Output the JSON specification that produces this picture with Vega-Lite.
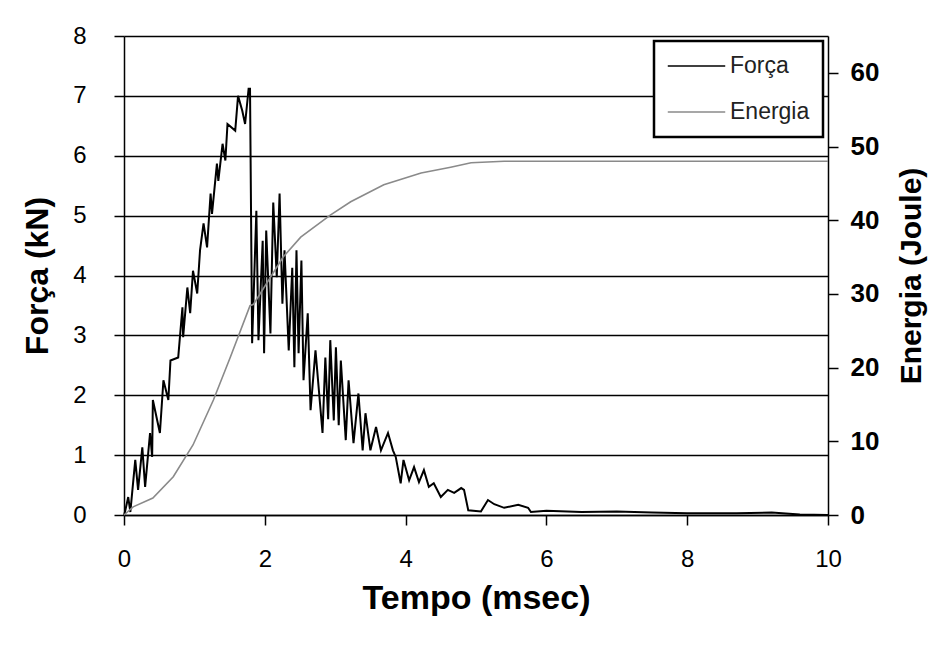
{
  "$schema": "https://vega.github.io/schema/vega-lite/v6.json",
  "width": 704,
  "height": 479,
  "autosize": {"type": "none"},
  "padding": {"left": 124, "top": 36, "right": 119, "bottom": 139},
  "background": "white",
  "config": {
    "view": {"stroke": null},
    "font": "Liberation Sans",
    "axis": {
      "domainColor": "black", "domainWidth": 1.5,
      "tickColor": "black", "tickWidth": 1.5, "tickSize": 10,
      "labelColor": "black", "labelFont": "Liberation Sans", "labelFontSize": 24,
      "titleColor": "black", "titleFont": "Liberation Sans", "titleFontSize": 32, "titleFontWeight": "bold"
    },
    "legend": {
      "orient": "top-right", "offset": 5,
      "fillColor": "white", "strokeColor": "black", "strokeWidth": 2.5,
      "padding": 13, "rowPadding": 22, "clipHeight": 24,
      "labelFont": "Liberation Sans", "labelFontSize": 23, "labelColor": "#222",
      "symbolType": "stroke", "symbolSize": 3300, "symbolStrokeWidth": 1.5,
      "labelOffset": 4
    }
  },
  "datasets": {
    "forca": [
      {"t": 0.0, "v": 0.0, "serie": "Força"},
      {"t": 0.01, "v": 0.03, "serie": "Força"},
      {"t": 0.06, "v": 0.3, "serie": "Força"},
      {"t": 0.09, "v": 0.05, "serie": "Força"},
      {"t": 0.16, "v": 0.92, "serie": "Força"},
      {"t": 0.2, "v": 0.42, "serie": "Força"},
      {"t": 0.26, "v": 1.13, "serie": "Força"},
      {"t": 0.3, "v": 0.47, "serie": "Força"},
      {"t": 0.37, "v": 1.37, "serie": "Força"},
      {"t": 0.4, "v": 0.97, "serie": "Força"},
      {"t": 0.41, "v": 1.92, "serie": "Força"},
      {"t": 0.51, "v": 1.37, "serie": "Força"},
      {"t": 0.56, "v": 2.25, "serie": "Força"},
      {"t": 0.63, "v": 1.92, "serie": "Força"},
      {"t": 0.66, "v": 2.58, "serie": "Força"},
      {"t": 0.77, "v": 2.63, "serie": "Força"},
      {"t": 0.83, "v": 3.47, "serie": "Força"},
      {"t": 0.84, "v": 2.97, "serie": "Força"},
      {"t": 0.9, "v": 3.8, "serie": "Força"},
      {"t": 0.94, "v": 3.37, "serie": "Força"},
      {"t": 0.98, "v": 4.08, "serie": "Força"},
      {"t": 1.04, "v": 3.7, "serie": "Força"},
      {"t": 1.08, "v": 4.42, "serie": "Força"},
      {"t": 1.13, "v": 4.87, "serie": "Força"},
      {"t": 1.18, "v": 4.47, "serie": "Força"},
      {"t": 1.23, "v": 5.37, "serie": "Força"},
      {"t": 1.25, "v": 5.03, "serie": "Força"},
      {"t": 1.32, "v": 5.87, "serie": "Força"},
      {"t": 1.34, "v": 5.58, "serie": "Força"},
      {"t": 1.4, "v": 6.2, "serie": "Força"},
      {"t": 1.44, "v": 5.92, "serie": "Força"},
      {"t": 1.47, "v": 6.53, "serie": "Força"},
      {"t": 1.58, "v": 6.42, "serie": "Força"},
      {"t": 1.62, "v": 7.0, "serie": "Força"},
      {"t": 1.68, "v": 6.75, "serie": "Força"},
      {"t": 1.72, "v": 6.53, "serie": "Força"},
      {"t": 1.77, "v": 7.12, "serie": "Força"},
      {"t": 1.79, "v": 7.12, "serie": "Força"},
      {"t": 1.82, "v": 2.87, "serie": "Força"},
      {"t": 1.88, "v": 5.08, "serie": "Força"},
      {"t": 1.91, "v": 2.92, "serie": "Força"},
      {"t": 1.97, "v": 4.58, "serie": "Força"},
      {"t": 1.99, "v": 2.7, "serie": "Força"},
      {"t": 2.02, "v": 4.75, "serie": "Força"},
      {"t": 2.08, "v": 3.03, "serie": "Força"},
      {"t": 2.12, "v": 5.22, "serie": "Força"},
      {"t": 2.17, "v": 3.97, "serie": "Força"},
      {"t": 2.21, "v": 5.37, "serie": "Força"},
      {"t": 2.25, "v": 3.53, "serie": "Força"},
      {"t": 2.28, "v": 4.42, "serie": "Força"},
      {"t": 2.34, "v": 2.75, "serie": "Força"},
      {"t": 2.39, "v": 4.13, "serie": "Força"},
      {"t": 2.42, "v": 2.47, "serie": "Força"},
      {"t": 2.45, "v": 4.42, "serie": "Força"},
      {"t": 2.48, "v": 2.7, "serie": "Força"},
      {"t": 2.52, "v": 4.25, "serie": "Força"},
      {"t": 2.55, "v": 2.25, "serie": "Força"},
      {"t": 2.61, "v": 3.37, "serie": "Força"},
      {"t": 2.65, "v": 1.75, "serie": "Força"},
      {"t": 2.72, "v": 2.75, "serie": "Força"},
      {"t": 2.82, "v": 1.37, "serie": "Força"},
      {"t": 2.86, "v": 2.63, "serie": "Força"},
      {"t": 2.9, "v": 1.6, "serie": "Força"},
      {"t": 2.93, "v": 2.92, "serie": "Força"},
      {"t": 2.98, "v": 1.58, "serie": "Força"},
      {"t": 3.01, "v": 2.8, "serie": "Força"},
      {"t": 3.05, "v": 1.5, "serie": "Força"},
      {"t": 3.08, "v": 2.58, "serie": "Força"},
      {"t": 3.15, "v": 1.25, "serie": "Força"},
      {"t": 3.19, "v": 2.25, "serie": "Força"},
      {"t": 3.26, "v": 1.2, "serie": "Força"},
      {"t": 3.33, "v": 2.03, "serie": "Força"},
      {"t": 3.39, "v": 1.08, "serie": "Força"},
      {"t": 3.43, "v": 1.7, "serie": "Força"},
      {"t": 3.5, "v": 1.08, "serie": "Força"},
      {"t": 3.58, "v": 1.47, "serie": "Força"},
      {"t": 3.65, "v": 1.08, "serie": "Força"},
      {"t": 3.75, "v": 1.37, "serie": "Força"},
      {"t": 3.82, "v": 1.08, "serie": "Força"},
      {"t": 3.86, "v": 0.97, "serie": "Força"},
      {"t": 3.93, "v": 0.53, "serie": "Força"},
      {"t": 3.97, "v": 0.92, "serie": "Força"},
      {"t": 4.05, "v": 0.58, "serie": "Força"},
      {"t": 4.12, "v": 0.8, "serie": "Força"},
      {"t": 4.19, "v": 0.55, "serie": "Força"},
      {"t": 4.26, "v": 0.75, "serie": "Força"},
      {"t": 4.33, "v": 0.47, "serie": "Força"},
      {"t": 4.4, "v": 0.53, "serie": "Força"},
      {"t": 4.5, "v": 0.3, "serie": "Força"},
      {"t": 4.6, "v": 0.42, "serie": "Força"},
      {"t": 4.69, "v": 0.37, "serie": "Força"},
      {"t": 4.79, "v": 0.45, "serie": "Força"},
      {"t": 4.83, "v": 0.42, "serie": "Força"},
      {"t": 4.89, "v": 0.08, "serie": "Força"},
      {"t": 5.07, "v": 0.06, "serie": "Força"},
      {"t": 5.17, "v": 0.25, "serie": "Força"},
      {"t": 5.26, "v": 0.18, "serie": "Força"},
      {"t": 5.4, "v": 0.12, "serie": "Força"},
      {"t": 5.6, "v": 0.17, "serie": "Força"},
      {"t": 5.74, "v": 0.12, "serie": "Força"},
      {"t": 5.78, "v": 0.05, "serie": "Força"},
      {"t": 6.0, "v": 0.07, "serie": "Força"},
      {"t": 6.5, "v": 0.05, "serie": "Força"},
      {"t": 7.0, "v": 0.06, "serie": "Força"},
      {"t": 7.5, "v": 0.04, "serie": "Força"},
      {"t": 8.0, "v": 0.03, "serie": "Força"},
      {"t": 8.7, "v": 0.03, "serie": "Força"},
      {"t": 9.2, "v": 0.04, "serie": "Força"},
      {"t": 9.6, "v": 0.01, "serie": "Força"},
      {"t": 10.0, "v": 0.0, "serie": "Força"}
    ],
    "energia": [
      {"t": 0.0, "v": 0.0, "serie": "Energia"},
      {"t": 0.13, "v": 1.1, "serie": "Energia"},
      {"t": 0.41, "v": 2.3, "serie": "Energia"},
      {"t": 0.7, "v": 5.2, "serie": "Energia"},
      {"t": 0.98, "v": 9.5, "serie": "Energia"},
      {"t": 1.27, "v": 15.6, "serie": "Energia"},
      {"t": 1.51, "v": 21.4, "serie": "Energia"},
      {"t": 1.79, "v": 28.4, "serie": "Energia"},
      {"t": 1.84, "v": 28.6, "serie": "Energia"},
      {"t": 2.26, "v": 35.0, "serie": "Energia"},
      {"t": 2.51, "v": 37.7, "serie": "Energia"},
      {"t": 2.93, "v": 40.7, "serie": "Energia"},
      {"t": 3.22, "v": 42.5, "serie": "Energia"},
      {"t": 3.69, "v": 44.8, "serie": "Energia"},
      {"t": 4.22, "v": 46.4, "serie": "Energia"},
      {"t": 4.64, "v": 47.2, "serie": "Energia"},
      {"t": 4.93, "v": 47.8, "serie": "Energia"},
      {"t": 5.4, "v": 48.0, "serie": "Energia"},
      {"t": 10.0, "v": 48.0, "serie": "Energia"}
    ]
  },
  "layer": [
    {
      "data": {"name": "forca"},
      "mark": {"type": "line", "strokeWidth": 2, "interpolate": "linear"},
      "encoding": {
        "x": {"field": "t", "type": "quantitative", "scale": {"domain": [0, 10], "nice": false},
          "axis": {"values": [0, 2, 4, 6, 8, 10], "format": "d", "labelFlush": false, "grid": false, "title": "Tempo (msec)", "titleFontSize": 34, "labelPadding": 22, "titlePadding": 10}},
        "y": {"field": "v", "type": "quantitative", "scale": {"domain": [0, 8], "nice": false},
          "axis": {"orient": "left", "values": [0, 1, 2, 3, 4, 5, 6, 7, 8], "labelFlush": false, "grid": true, "gridColor": "black", "gridWidth": 1.4, "gridOpacity": 1,
            "title": "Força (kN)", "labelPadding": 28, "titlePadding": 18}},
        "color": {"field": "serie", "type": "nominal", "scale": {"domain": ["Força", "Energia"], "range": ["black", "#8a8a8a"]},
          "legend": {"title": null}}
      }
    },
    {
      "data": {"name": "energia"},
      "mark": {"type": "line", "strokeWidth": 1.6},
      "encoding": {
        "x": {"field": "t", "type": "quantitative", "scale": {"domain": [0, 10], "nice": false}},
        "y": {"field": "v", "type": "quantitative", "scale": {"domain": [0, 65], "nice": false},
          "axis": {"orient": "right", "values": [0, 10, 20, 30, 40, 50, 60], "labelFlush": false, "grid": false, "title": "Energia (Joule)",
            "titleAngle": 270, "titleBaseline": "top", "titleFontSize": 30, "labelFontSize": 26, "labelPadding": 12, "labelFontWeight": "bold", "titlePadding": 18}},
        "color": {"field": "serie", "type": "nominal", "legend": {"title": null}}
      }
    }
  ],
  "resolve": {"scale": {"y": "independent"}}
}
